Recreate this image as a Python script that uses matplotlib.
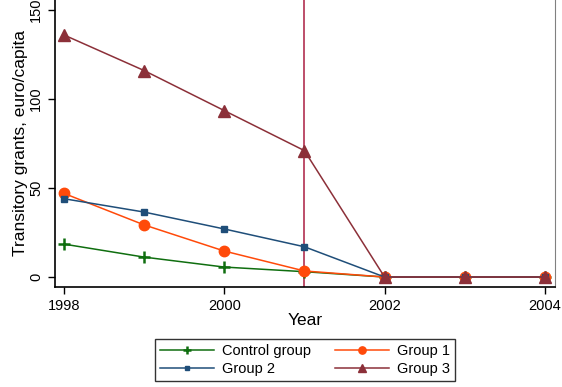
import matplotlib
matplotlib.use("Agg")
import matplotlib.pyplot as plt

plt.rcParams['font.family'] = ['Liberation Sans', 'DejaVu Sans']

years = [1998, 1999, 2000, 2001, 2002, 2003, 2004]
control = [18.5, 11.2, 5.6, 3.0, 0, 0, 0]
group1 = [47.0, 29.3, 14.6, 3.4, 0, 0, 0]
group2 = [44.0, 36.5, 27.0, 17.0, 0, 0, 0]
group3 = [136.0, 116.0, 93.5, 71.0, 0, 0, 0]
xticks = [1998, 2000, 2002, 2004]
yticks = [0, 50, 100, 150]
cutoff_year = 2001

fig = plt.figure(figsize=(5.62, 3.87), dpi=100)
ax = fig.add_axes([55/562, 1 - 287/387, 500/562, 287/387])

ax.axvline(cutoff_year, color='#b8405e', lw=1.3, zorder=1)

ax.plot(years, control, color='#0f6e0f', lw=1.1, marker='+', ms=9, mew=1.8,
        label='Control group', zorder=3)
ax.plot(years, group1, color='#ff4a0a', lw=1.1, marker='o', ms=7.5,
        label='Group 1', zorder=3)
ax.plot(years, group2, color='#1f4e79', lw=1.1, marker='s', ms=5,
        label='Group 2', zorder=3)
ax.plot(years, group3, color='#8c3039', lw=1.1, marker='^', ms=8.5,
        label='Group 3', zorder=3)

ax.set_xlim(1997.89, 2004.125)
ax.set_ylim(-5.6, 155.6)
ax.set_xticks(xticks)
ax.set_yticks(yticks)
ax.set_yticklabels([str(v) for v in yticks], rotation=90, va='center')
ax.tick_params(axis='both', direction='out', length=5, width=1, labelsize=10.5)
ax.spines['top'].set_visible(False)
ax.spines['right'].set_color('#808080')
for s in ['left', 'bottom']:
    ax.spines[s].set_linewidth(1.2)

ax.set_xlabel('Year', fontsize=12.5, labelpad=0)
ax.set_ylabel('Transitory grants, euro/capita', fontsize=12.5, labelpad=0.5)

handles, labels = ax.get_legend_handles_labels()
order = [0, 2, 1, 3]
leg = fig.legend([handles[i] for i in order], [labels[i] for i in order],
                 ncol=2, loc='center', bbox_to_anchor=(305/562, 1 - 360/387),
                 fontsize=10.5, frameon=True, fancybox=False, edgecolor='black',
                 handlelength=3.7, handletextpad=0.6, columnspacing=1.6,
                 labelspacing=0.3, markerscale=0.7, borderpad=0.35)
leg.get_frame().set_linewidth(1.0)

fig.savefig('out.png', dpi=100)
